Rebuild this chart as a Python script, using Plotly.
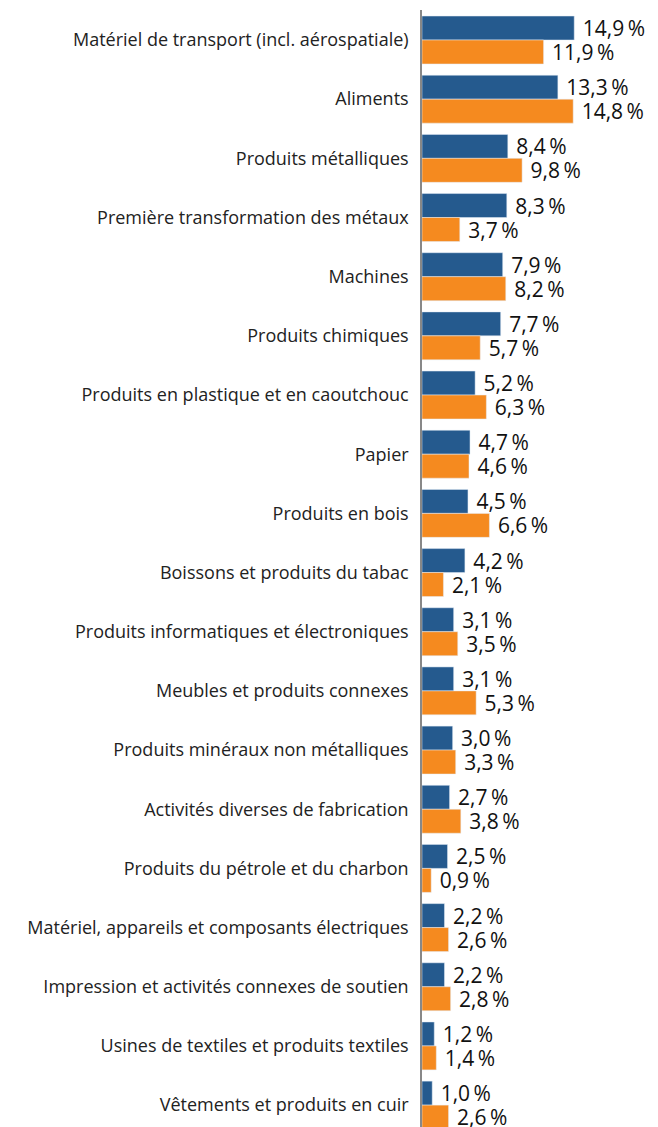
import plotly.graph_objects as go

categories = [
    "Matériel de transport (incl. aérospatiale)",
    "Aliments",
    "Produits métalliques",
    "Première transformation des métaux",
    "Machines",
    "Produits chimiques",
    "Produits en plastique et en caoutchouc",
    "Papier",
    "Produits en bois",
    "Boissons et produits du tabac",
    "Produits informatiques et électroniques",
    "Meubles et produits connexes",
    "Produits minéraux non métalliques",
    "Activités diverses de fabrication",
    "Produits du pétrole et du charbon",
    "Matériel, appareils et composants électriques",
    "Impression et activités connexes de soutien",
    "Usines de textiles et produits textiles",
    "Vêtements et produits en cuir",
]
series_blue = [14.9, 13.3, 8.4, 8.3, 7.9, 7.7, 5.2, 4.7, 4.5, 4.2, 3.1, 3.1, 3.0, 2.7, 2.5, 2.2, 2.2, 1.2, 1.0]
series_orange = [11.9, 14.8, 9.8, 3.7, 8.2, 5.7, 6.3, 4.6, 6.6, 2.1, 3.5, 5.3, 3.3, 3.8, 0.9, 2.6, 2.8, 1.4, 2.6]

def fmt(v):
    return " " + f"{v:.1f}".replace(".", ",") + "\u2009%"

BLUE = "#255A8E"
ORANGE = "#F58A1F"
FONT = "Open Sans"

fig = go.Figure()
for vals, col, nm in [(series_blue, BLUE, "A"), (series_orange, ORANGE, "B")]:
    fig.add_trace(go.Bar(
        y=categories, x=vals, orientation="h", marker_color=col,
        text=[fmt(v) for v in vals], textposition="outside",
        textfont=dict(family=FONT, size=21, color="#111111"),
        cliponaxis=False, constraintext="none", name=nm,
    ))

fig.update_layout(
    width=650, height=1119,
    margin=dict(l=414, r=0, t=2, b=0),
    barmode="group", bargap=0.19, bargroupgap=0,
    showlegend=False,
    plot_bgcolor="white", paper_bgcolor="white",
    font=dict(family=FONT, size=18, color="#222222"),
)
fig.update_xaxes(range=[0, 23.1], visible=False, showgrid=False, zeroline=False)
fig.update_yaxes(
    range=[18.37, -0.507], showgrid=False, zeroline=False,
    showline=True, linecolor="#888888", linewidth=1.5,
    ticks="", ticklabelstandoff=8,
    tickfont=dict(family=FONT, size=18, color="#222222"),
)

fig.write_html("out.html")
